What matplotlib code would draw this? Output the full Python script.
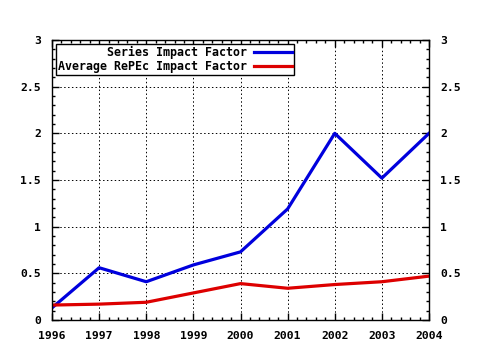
import matplotlib
matplotlib.use("Agg")
import matplotlib.pyplot as plt
from matplotlib.ticker import MultipleLocator, AutoMinorLocator

years = [1996, 1997, 1998, 1999, 2000, 2001, 2002, 2003, 2004]
series_if = [0.13, 0.56, 0.41, 0.59, 0.73, 1.19, 2.0, 1.52, 2.0]
average_if = [0.16, 0.17, 0.19, 0.29, 0.39, 0.34, 0.38, 0.41, 0.47]

plt.rcParams["font.family"] = "DejaVu Sans Mono"
plt.rcParams["font.weight"] = "bold"
plt.rcParams["font.size"] = 8.2

fig = plt.figure(figsize=(4.8, 3.5), dpi=100)
ax = fig.add_axes([52 / 480, 30 / 350, 377 / 480, 280 / 350])

ax.plot(years, series_if, color="#0000dd", lw=2.3, label="Series Impact Factor")
ax.plot(years, average_if, color="#dd0000", lw=2.3, label="Average RePEc Impact Factor")

ax.set_xlim(1996, 2004)
ax.set_ylim(0, 3)
ax.xaxis.set_major_locator(MultipleLocator(1))
ax.yaxis.set_major_locator(MultipleLocator(0.5))
ax.xaxis.set_minor_locator(AutoMinorLocator(5))
ax.yaxis.set_minor_locator(AutoMinorLocator(5))
ax.yaxis.set_major_formatter(plt.FuncFormatter(lambda v, p: f"{v:g}"))
ax.tick_params(which="both", direction="in", top=True, right=True,
               labelright=True, width=1)
ax.tick_params(which="major", length=5, pad=8)
ax.tick_params(which="minor", length=2.5)
ax.grid(True, which="major", linestyle=(0, (1.5, 2.5)), color="black", lw=0.7)
for s in ax.spines.values():
    s.set_linewidth(1)

leg = ax.legend(loc="upper left", markerfirst=False, fancybox=False,
                framealpha=1, edgecolor="black", handlelength=3.3,
                borderpad=0.15, labelspacing=0.1, borderaxespad=0.35,
                handletextpad=0.6, fontsize=8.4)
leg.get_frame().set_linewidth(1)
for t in leg.get_texts():
    t.set_ha("right")
leg._legend_box.align = "right"

fig.savefig("out.png", dpi=100)
